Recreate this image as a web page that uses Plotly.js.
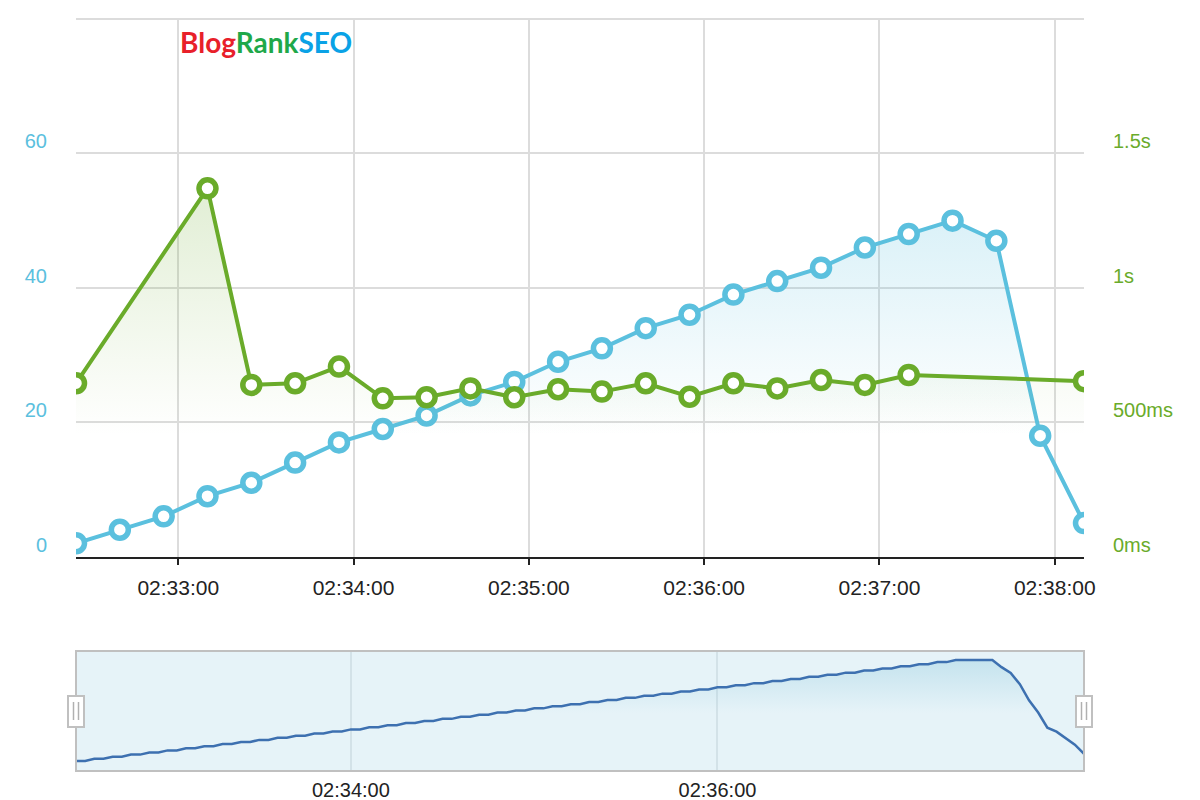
<!DOCTYPE html>
<html>
<head>
<meta charset="utf-8">
<script src="https://cdn.plot.ly/plotly-3.0.1.min.js"></script>
<style>html,body{margin:0;padding:0;background:#fff;}#chart{width:1200px;height:800px;}</style>
</head>
<body>
<div id="chart"></div>
<script>
// ---- data ----
const times = [
  '2013-01-01 02:32:25','2013-01-01 02:32:40','2013-01-01 02:32:55','2013-01-01 02:33:10',
  '2013-01-01 02:33:25','2013-01-01 02:33:40','2013-01-01 02:33:55','2013-01-01 02:34:10',
  '2013-01-01 02:34:25','2013-01-01 02:34:40','2013-01-01 02:34:55','2013-01-01 02:35:10',
  '2013-01-01 02:35:25','2013-01-01 02:35:40','2013-01-01 02:35:55','2013-01-01 02:36:10',
  '2013-01-01 02:36:25','2013-01-01 02:36:40','2013-01-01 02:36:55','2013-01-01 02:37:10',
  '2013-01-01 02:37:25','2013-01-01 02:37:40','2013-01-01 02:37:55','2013-01-01 02:38:10'
];
const users = [2,4,6,9,11,14,17,19,21,24,26,29,31,34,36,39,41,43,46,48,50,47,18,5];
const responseMs = [645,null,null,1370,639,645,707,589,593,626,593,623,614,645,595,645,626,657,639,676,null,null,null,653];

const leftTickVals = [0,20,40,60,80];
const leftTickText = ['0','20','40','60',''];
const rightTickVals = [0,500,1000,1500,2000];
const rightTickText = ['0ms','500ms','1s','1.5s',''];

const navStart = '2013-01-01 02:32:30';
const navStepSeconds = 3;
const navValues = [
  2,2,3,3,4,4,5,5,6,6,7,7,8,8,9,9,10,10,11,11,
  12,12,13,13,14,14,15,15,16,16,17,17,18,18,19,19,20,20,21,21,
  22,22,23,23,24,24,25,25,26,26,27,27,28,28,29,29,30,30,31,31,
  32,32,33,33,34,34,35,35,36,36,37,37,38,38,39,39,40,40,41,41,
  42,42,43,43,44,44,45,45,46,46,47,47,48,48,49,49,
  50,50,50,50,50,
  46.6,43.8,38.5,30.8,25,17.8,15.9,13,9.7,5.4
];
const navTickVals = ['2013-01-01 02:34:00','2013-01-01 02:36:00'];
const navTickText = ['02:34:00','02:36:00'];

// build nav timestamps
function pad(n){return (n<10?'0':'')+n;}
const navBase = new Date(navStart.replace(' ','T')+'Z').getTime();
const navTimes = navValues.map((v,i)=>{
  const d = new Date(navBase + i*navStepSeconds*1000);
  return '2013-01-01 '+pad(d.getUTCHours())+':'+pad(d.getUTCMinutes())+':'+pad(d.getUTCSeconds());
});

const BLUE = '#5bc0de';
const GREEN = '#6aab2a';
const FONT = 'Liberation Sans, Arial, sans-serif';

const traces = [
  {
    x: times, y: users, type: 'scatter', mode: 'lines+markers',
    xaxis: 'x', yaxis: 'y',
    line: {color: BLUE, width: 4},
    marker: {symbol: 'circle', size: 17, color: '#ffffff', line: {color: BLUE, width: 5.5}},
    fill: 'tozeroy',
    fillgradient: {type: 'vertical', start: 18, stop: 50,
      colorscale: [[0, 'rgba(91,192,222,0)'], [1, 'rgba(91,192,222,0.22)']]},
    hoverinfo: 'x+y'
  },
  {
    x: times, y: responseMs, type: 'scatter', mode: 'lines+markers',
    xaxis: 'x', yaxis: 'y2', connectgaps: true,
    line: {color: GREEN, width: 4},
    marker: {symbol: 'circle', size: 17, color: '#ffffff', line: {color: GREEN, width: 5.5}},
    fill: 'tozeroy',
    fillgradient: {type: 'vertical', start: 450, stop: 1370,
      colorscale: [[0, 'rgba(106,171,42,0)'], [1, 'rgba(106,171,42,0.2)']]},
    hoverinfo: 'x+y'
  },
  {
    x: navTimes, y: navValues, type: 'scatter', mode: 'lines',
    xaxis: 'x2', yaxis: 'y3',
    line: {color: '#3d70b0', width: 2.5},
    fill: 'tozeroy',
    fillgradient: {type: 'vertical', start: 25, stop: 50,
      colorscale: [[0, 'rgba(120,190,215,0)'], [1, 'rgba(120,190,215,0.3)']]},
    hoverinfo: 'skip'
  }
];

const layout = {
  width: 1200, height: 800,
  margin: {l: 76, r: 116, t: 19, b: 29},
  paper_bgcolor: '#ffffff', plot_bgcolor: '#ffffff',
  showlegend: false,
  font: {family: FONT, size: 20, color: '#222'},
  xaxis: {
    type: 'date', domain: [0, 1], anchor: 'y',
    range: ['2013-01-01 02:32:25', '2013-01-01 02:38:10'],
    dtick: 60000, tick0: '2013-01-01 02:33:00', tickformat: '%H:%M:%S',
    showgrid: true, gridcolor: '#dcdcdc', gridwidth: 2,
    showline: true, linecolor: '#222', linewidth: 2,
    ticks: 'outside', ticklen: 6, tickwidth: 2, tickcolor: '#222',
    tickfont: {family: FONT, size: 21, color: '#222'},
    ticklabelstandoff: 5,
    zeroline: false
  },
  yaxis: {
    domain: [0.285, 1], anchor: 'x', range: [0, 80],
    tickvals: leftTickVals, ticktext: leftTickText,
    showgrid: true, gridcolor: '#dcdcdc', gridwidth: 2,
    zeroline: false, showline: false, ticks: '',
    tickfont: {family: FONT, size: 20, color: BLUE},
    ticklabelstandoff: 28, ticklabelshift: -12
  },
  yaxis2: {
    overlaying: 'y', side: 'right', anchor: 'x', range: [0, 2000],
    tickvals: rightTickVals, ticktext: rightTickText,
    showgrid: false, zeroline: false, showline: false, ticks: '',
    tickfont: {family: FONT, size: 20, color: GREEN},
    ticklabelstandoff: 28, ticklabelshift: -12
  },
  xaxis2: {
    type: 'date', domain: [0, 1], anchor: 'y3',
    range: ['2013-01-01 02:32:30', '2013-01-01 02:38:00'],
    tickvals: navTickVals, ticktext: navTickText,
    showgrid: true, gridcolor: '#d3e2e8', gridwidth: 2,
    showline: false, zeroline: false, ticks: '',
    tickfont: {family: FONT, size: 20, color: '#222'},
    ticklabelstandoff: 5
  },
  yaxis3: {
    domain: [0, 0.1596], anchor: 'x2', range: [-2.8, 54.3],
    showgrid: false, zeroline: false, showline: false, showticklabels: false, ticks: ''
  },
  shapes: [
    // top gridline of the main plot (value 80 / 2s)
    {type: 'line', xref: 'x domain', yref: 'y domain', x0: 0, x1: 1, y0: 1, y1: 1,
     line: {color: '#dcdcdc', width: 2}, layer: 'below'},
    {type: 'rect', xref: 'x2 domain', yref: 'y3 domain', x0: 0, x1: 1, y0: 0, y1: 1,
     fillcolor: '#e6f3f8', line: {color: '#c0c0c0', width: 2}, layer: 'below'},
    {type: 'rect', xref: 'x2 domain', yref: 'y3 domain', x0: 0, x1: 1, y0: 0, y1: 1,
     fillcolor: 'rgba(0,0,0,0)', line: {color: '#c0c0c0', width: 2}, layer: 'above'},
    // left handle
    {type: 'rect', xref: 'x2 domain', yref: 'y3 domain', xsizemode: 'pixel', ysizemode: 'pixel',
     xanchor: 0, yanchor: 0.5, x0: -8, x1: 8, y0: -16, y1: 15,
     fillcolor: '#ffffff', line: {color: '#c0c0c0', width: 2}, layer: 'above'},
    {type: 'line', xref: 'x2 domain', yref: 'y3 domain', xsizemode: 'pixel', ysizemode: 'pixel',
     xanchor: 0, yanchor: 0.5, x0: -2.5, x1: -2.5, y0: -9, y1: 9, line: {color: '#b0b0b0', width: 1.5}, layer: 'above'},
    {type: 'line', xref: 'x2 domain', yref: 'y3 domain', xsizemode: 'pixel', ysizemode: 'pixel',
     xanchor: 0, yanchor: 0.5, x0: 2.5, x1: 2.5, y0: -9, y1: 9, line: {color: '#b0b0b0', width: 1.5}, layer: 'above'},
    // right handle
    {type: 'rect', xref: 'x2 domain', yref: 'y3 domain', xsizemode: 'pixel', ysizemode: 'pixel',
     xanchor: 1, yanchor: 0.5, x0: -8, x1: 8, y0: -16, y1: 15,
     fillcolor: '#ffffff', line: {color: '#c0c0c0', width: 2}, layer: 'above'},
    {type: 'line', xref: 'x2 domain', yref: 'y3 domain', xsizemode: 'pixel', ysizemode: 'pixel',
     xanchor: 1, yanchor: 0.5, x0: -2.5, x1: -2.5, y0: -9, y1: 9, line: {color: '#b0b0b0', width: 1.5}, layer: 'above'},
    {type: 'line', xref: 'x2 domain', yref: 'y3 domain', xsizemode: 'pixel', ysizemode: 'pixel',
     xanchor: 1, yanchor: 0.5, x0: 2.5, x1: 2.5, y0: -9, y1: 9, line: {color: '#b0b0b0', width: 1.5}, layer: 'above'}
  ],
  annotations: [
    {xref: 'paper', yref: 'paper', x: 0.1012, y: 0.9694, xanchor: 'left', yanchor: 'middle',
     showarrow: false,
     text: "<span style='color:#e8202a'>Blog</span><span style='color:#1fa84a'>Rank</span><span style='color:#0aa2e6'>SEO</span>",
     font: {family: 'Lato, sans-serif', size: 28, weight: 700}}
  ]
};

Plotly.newPlot('chart', traces, layout, {displayModeBar: false, staticPlot: true});
</script>
</body>
</html>
